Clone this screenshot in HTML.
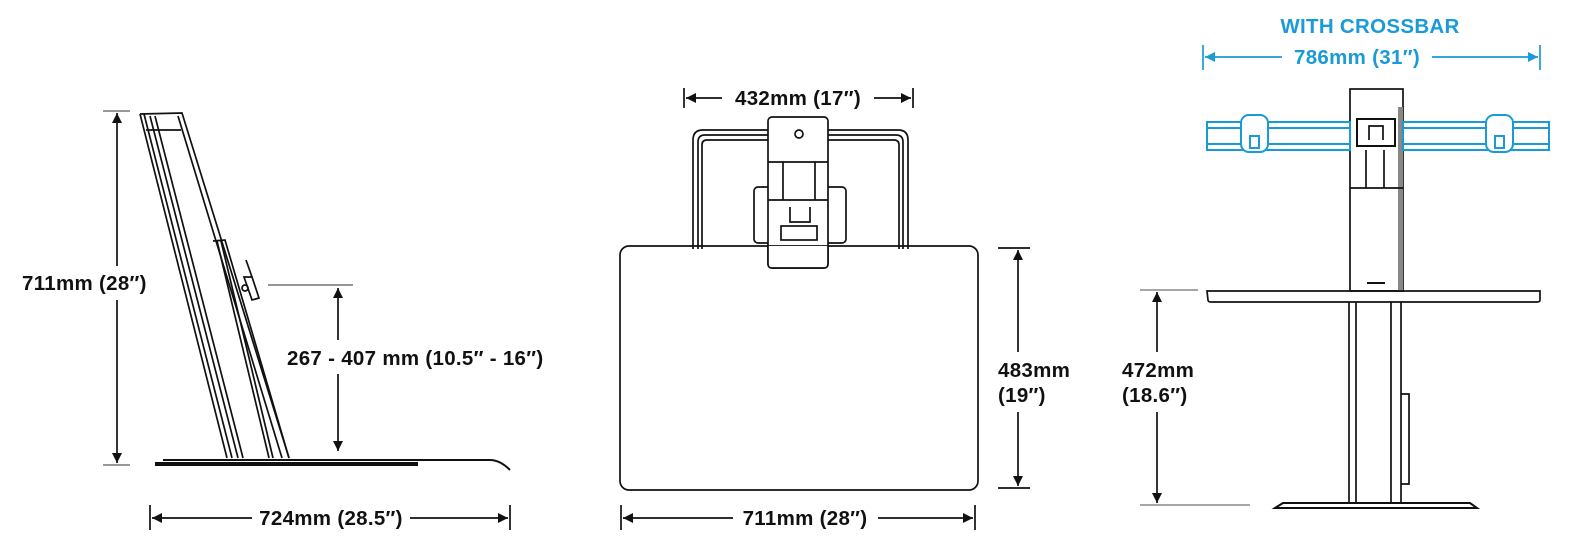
<!DOCTYPE html>
<html><head><meta charset="utf-8"><style>
html,body{margin:0;padding:0;background:#fff;width:1573px;height:555px;overflow:hidden}
svg{display:block}
text{font-family:"Liberation Sans",Arial,sans-serif;font-weight:bold;font-size:20.5px;fill:#111;letter-spacing:0.3px}
.b{fill:#1a9ad6}
</style></head><body>
<svg width="1573" height="555" viewBox="0 0 1573 555" xmlns="http://www.w3.org/2000/svg">
<defs>
<marker id="a" viewBox="0 0 10 10" refX="10" refY="5" markerWidth="10" markerHeight="10" orient="auto-start-reverse" markerUnits="userSpaceOnUse"><path d="M0,0L10,5L0,10z" fill="#111"/></marker>
<marker id="ab" viewBox="0 0 10 10" refX="10" refY="5" markerWidth="10" markerHeight="10" orient="auto-start-reverse" markerUnits="userSpaceOnUse"><path d="M0,0L10,5L0,10z" fill="#1a9ad6"/></marker>
</defs>
<g stroke="#111" fill="none" stroke-width="1.7">
<!-- LEFT -->
<line x1="103" y1="111" x2="130" y2="111" stroke="#888"/>
<line x1="103" y1="465" x2="130" y2="465" stroke="#888"/>
<line x1="117" y1="113" x2="117" y2="266" marker-start="url(#a)"/>
<line x1="117" y1="300" x2="117" y2="463" marker-end="url(#a)"/>
<path d="M140,114 L182,113 L289,458"/>
<path d="M140,114 L227,458"/>
<path d="M144,114 L232,458"/>
<path d="M150,116 L238,458 M155,116 L243,458"/>
<path d="M178,116 L282,458"/>
<path d="M146,130 L181,130"/>
<path d="M213,241 L225,240 L289,458 M217,241 L269,458 M221,241 L273,458" />
<path d="M244,277 L252,277 L259,298 L252,300 z"/>
<circle cx="245" cy="288" r="3"/>
<line x1="246" y1="260" x2="252" y2="277"/>
<line x1="268" y1="285" x2="353" y2="285" stroke="#888"/>
<line x1="338" y1="288" x2="338" y2="340" marker-start="url(#a)"/>
<line x1="338" y1="374" x2="338" y2="451" marker-end="url(#a)"/>
<path d="M155,463 L418,463 M163,460 L490,460 Q500,460 510,470 M155,465 L418,465" stroke-width="2"/>
<line x1="150" y1="505" x2="150" y2="530"/>
<line x1="510" y1="505" x2="510" y2="530"/>
<line x1="152" y1="518" x2="252" y2="518" marker-start="url(#a)"/>
<line x1="410" y1="518" x2="508" y2="518" marker-end="url(#a)"/>
<!-- MIDDLE -->
<line x1="684" y1="88" x2="684" y2="108"/>
<line x1="913" y1="88" x2="913" y2="108"/>
<line x1="686" y1="98" x2="722" y2="98" marker-start="url(#a)"/>
<line x1="874" y1="98" x2="911" y2="98" marker-end="url(#a)"/>
<path d="M693,249 L693,140 Q693,130 703,130 L898,130 Q908,130 908,140 L908,249"/>
<path d="M698,249 L698,142 Q698,135 705,135 L896,135 Q903,135 903,142 L903,249"/>
<path d="M702,249 L702,145 Q702,140 707,140 L894,140 Q899,140 899,145 L899,249"/>
<rect x="754" y="187" width="92" height="56" rx="4"/>
<rect x="768" y="117" width="60" height="151" rx="4" fill="#fff"/>
<circle cx="799" cy="134" r="4"/>
<line x1="768" y1="162" x2="828" y2="162"/>
<line x1="768" y1="200" x2="828" y2="200"/>
<line x1="783" y1="162" x2="783" y2="200"/><line x1="815" y1="162" x2="815" y2="200"/>
<path d="M790,207 L790,222 L810,222 L810,207"/>
<rect x="781" y="226" width="36" height="14"/>
<rect x="620" y="246" width="358" height="244" rx="9" fill="none"/>
<rect x="768" y="246" width="60" height="22" fill="#fff" stroke="none"/>
<path d="M768,246 L768,264 Q768,268 772,268 L824,268 Q828,268 828,264 L828,246"/>
<line x1="998" y1="248" x2="1030" y2="248"/>
<line x1="998" y1="488" x2="1030" y2="488"/>
<line x1="1018" y1="250" x2="1018" y2="352" marker-start="url(#a)"/>
<line x1="1018" y1="412" x2="1018" y2="486" marker-end="url(#a)"/>
<line x1="621" y1="505" x2="621" y2="530"/>
<line x1="975" y1="505" x2="975" y2="530"/>
<line x1="623" y1="518" x2="733" y2="518" marker-start="url(#a)"/>
<line x1="878" y1="518" x2="973" y2="518" marker-end="url(#a)"/>
<!-- RIGHT -->
<rect x="1350" y="89" width="53" height="202"/>
<rect x="1398" y="107" width="5" height="184" fill="#888" stroke="none"/>
<line x1="1350" y1="188" x2="1403" y2="188"/>
<line x1="1366" y1="150" x2="1366" y2="188"/><line x1="1384" y1="150" x2="1384" y2="188"/>
<line x1="1367" y1="283" x2="1385" y2="283" stroke-width="2"/>
<g stroke="#1a9ad6" stroke-width="2">
<rect x="1207" y="122" width="143" height="28"/>
<rect x="1403" y="122" width="146" height="28"/>
<line x1="1207" y1="128" x2="1350" y2="128"/><line x1="1207" y1="144" x2="1350" y2="144"/>
<line x1="1403" y1="128" x2="1549" y2="128"/><line x1="1403" y1="144" x2="1549" y2="144"/>
<rect x="1241" y="115" width="27" height="37" rx="8" fill="#fff"/>
<rect x="1486" y="115" width="27" height="37" rx="8" fill="#fff"/>
<rect x="1250" y="136" width="9" height="12"/><rect x="1495" y="136" width="9" height="12"/>
</g>
<rect x="1357" y="119" width="38" height="27" fill="#fff" stroke-width="2"/>
<path d="M1369,140 L1369,126 L1383,126 L1383,140"/>
<path d="M1207,291 L1540,291 L1540,300 Q1540,302 1537,302 L1211,302 Q1208,302 1208,300 z"/>
<line x1="1349" y1="302" x2="1349" y2="503"/><line x1="1356" y1="302" x2="1356" y2="503"/>
<line x1="1391" y1="302" x2="1391" y2="503"/><line x1="1401" y1="302" x2="1401" y2="503"/>
<path d="M1401,394 L1409,394 L1409,484 L1401,484"/>
<path d="M1275,508 L1283,503 L1470,503 L1477,508 z" stroke-width="2"/>
<line x1="1140" y1="290" x2="1198" y2="290" stroke="#999"/>
<line x1="1140" y1="505" x2="1250" y2="505" stroke="#999"/>
<line x1="1157" y1="292" x2="1157" y2="352" marker-start="url(#a)"/>
<line x1="1157" y1="412" x2="1157" y2="503" marker-end="url(#a)"/>
<g stroke="#1a9ad6">
<line x1="1203" y1="45" x2="1203" y2="70"/>
<line x1="1540" y1="45" x2="1540" y2="70"/>
<line x1="1205" y1="57" x2="1282" y2="57" marker-start="url(#ab)"/>
<line x1="1432" y1="57" x2="1538" y2="57" marker-end="url(#ab)"/>
</g>
</g>
<text x="22" y="290">711mm (28″)</text>
<text x="287" y="365">267 - 407 mm (10.5″ - 16″)</text>
<text x="331" y="525" text-anchor="middle">724mm (28.5″)</text>
<text x="798" y="105" text-anchor="middle">432mm (17″)</text>
<text x="998" y="377">483mm</text>
<text x="998" y="402">(19″)</text>
<text x="805" y="525" text-anchor="middle">711mm (28″)</text>
<text x="1122" y="377">472mm</text>
<text x="1122" y="402">(18.6″)</text>
<text class="b" x="1370" y="33" text-anchor="middle">WITH CROSSBAR</text>
<text class="b" x="1357" y="64" text-anchor="middle">786mm (31″)</text>
</svg>
</body></html>
